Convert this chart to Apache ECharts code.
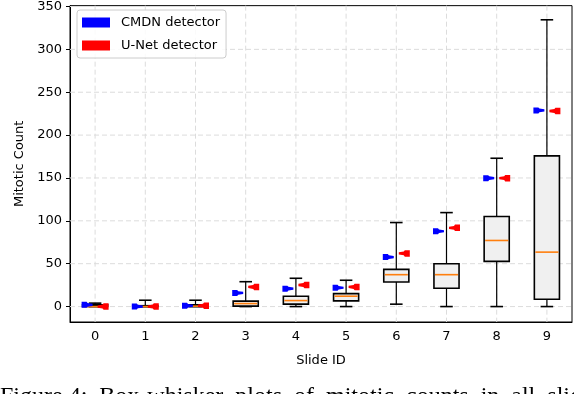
<!DOCTYPE html>
<html><head><meta charset="utf-8">
<script src="https://cdn.jsdelivr.net/npm/echarts@6/dist/echarts.min.js"></script>
<style>html,body{margin:0;padding:0;background:#fff}#c{width:574px;height:394px}</style>
</head><body><div id="c"></div>
<script>
// ---- data ----
const categories = ['0','1','2','3','4','5','6','7','8','9'];
const whiskerLow  = [0, 0, 0, 0, 0, 0, 2.8, 0, 0, 0];
const q1          = [0, 0, 0, 0.5, 2.8, 6.6, 28.7, 21.4, 52.7, 8.6];
const medians     = [0, 0, 0.5, 3.5, 7, 12.1, 37.2, 37.2, 77.1, 63.5];
const q3          = [2, 1, 2, 6.3, 12.1, 15.1, 43.4, 50, 105, 175.8];
const whiskerHigh = [4, 7.4, 7.4, 29, 33, 30.7, 98, 109.6, 173, 334.5];
const cmdnDetector = [2, 0, 1, 15.9, 20.9, 22, 57.7, 87.9, 149.8, 228.8];
const unetDetector = [0, 0, 1, 22.9, 25.2, 22.9, 62, 91.8, 149.8, 228.1];
const yTicks = [0, 50, 100, 150, 200, 250, 300, 350];
const seriesNames = ['CMDN detector', 'U-Net detector'];
const captionText = 'Figure 4:  Box-whisker  plots  of  mitotic  counts  in  all  slides';

const FONT = 'DejaVu Sans';
const boxData = categories.map((c, i) => [i, whiskerLow[i], q1[i], medians[i], q3[i], whiskerHigh[i]]);

function renderBox(params, api) {
  const idx = api.value(0);
  const cx = api.coord([idx, 0])[0];
  const band = api.size([1, 0])[0];
  const hw = band * 0.25, cw = band * 0.125;
  const y = k => api.coord([idx, api.value(k)])[1];
  const yLo = y(1), yQ1 = y(2), yMed = y(3), yQ3 = y(4), yHi = y(5);
  const ls = { stroke: '#000', lineWidth: 1.2 };
  return { type: 'group', children: [
    { type: 'line', shape: { x1: cx, y1: yQ1, x2: cx, y2: yLo }, style: ls },
    { type: 'line', shape: { x1: cx, y1: yQ3, x2: cx, y2: yHi }, style: ls },
    { type: 'line', shape: { x1: cx - cw, y1: yLo, x2: cx + cw, y2: yLo }, style: { stroke: '#000', lineWidth: 1.6 } },
    { type: 'line', shape: { x1: cx - cw, y1: yHi, x2: cx + cw, y2: yHi }, style: { stroke: '#000', lineWidth: 1.6 } },
    { type: 'rect', shape: { x: cx - hw, y: yQ3, width: 2 * hw, height: Math.max(yQ1 - yQ3, 0.5) }, style: { fill: '#f0f0f0', stroke: '#000', lineWidth: 1.6 } },
    { type: 'line', shape: { x1: cx - hw + 1, y1: yMed, x2: cx + hw - 1, y2: yMed }, style: { stroke: '#ff7f0e', lineWidth: 1.6 } }
  ]};
}
function renderVGrid(params, api) {
  const cs = params.coordSys;
  const x = api.coord([api.value(0), 0])[0];
  return { type: 'line', shape: { x1: x, y1: cs.y, x2: x, y2: cs.y + cs.height },
    style: { stroke: '#dcdcdc', lineWidth: 1, lineDash: [5, 3] } };
}
function renderHGrid(params, api) {
  const cs = params.coordSys;
  const yy = api.coord([0, api.value(1)])[1];
  return { type: 'line', shape: { x1: cs.x, y1: yy, x2: cs.x + cs.width, y2: yy },
    style: { stroke: '#dcdcdc', lineWidth: 1, lineDash: [5, 3] } };
}

const chart = echarts.init(document.getElementById('c'), null, { renderer: 'canvas' });
chart.setOption({
  animation: false,
  backgroundColor: '#fff',
  grid: { left: 70, right: 2, top: 4, bottom: 72, show: true, borderColor: '#000', borderWidth: 1, backgroundColor: 'transparent' },
  legend: {
    orient: 'vertical', left: 77, top: 10,
    data: [{ name: seriesNames[0], icon: 'rect', itemStyle: { color: '#0000ff', opacity: 1 } },
           { name: seriesNames[1], icon: 'rect', itemStyle: { color: '#ff0000', opacity: 1 } }],
    itemWidth: 28, itemHeight: 10, itemGap: 10,
    padding: [6, 6, 6, 5],
    backgroundColor: 'rgba(255,255,255,0.85)', borderColor: '#cccccc', borderWidth: 1, borderRadius: 3,
    textStyle: { fontFamily: FONT, fontSize: 13, color: '#000', padding: [0, 0, 0, 6] }
  },
  xAxis: {
    type: 'category', data: categories, boundaryGap: true,
    name: 'Slide ID', nameLocation: 'middle', nameGap: 32,
    nameTextStyle: { fontFamily: FONT, fontSize: 13, color: '#000' },
    axisLine: { onZero: false, lineStyle: { color: '#000', width: 1 } },
    axisTick: { alignWithLabel: true, length: 4, lineStyle: { color: '#000' } },
    axisLabel: { fontFamily: FONT, fontSize: 13, color: '#000', margin: 8 },
    splitLine: { show: false }
  },
  yAxis: {
    type: 'value', min: -18, max: 351,
    name: 'Mitotic Count', nameLocation: 'middle', nameGap: 41,
    nameTextStyle: { fontFamily: FONT, fontSize: 13, color: '#000' },
    axisLine: { show: true, lineStyle: { color: '#000', width: 1 } },
    axisTick: { show: true, customValues: yTicks, length: 4, lineStyle: { color: '#000' } },
    axisLabel: { customValues: yTicks, fontFamily: FONT, fontSize: 13, color: '#000', margin: 8 },
    splitLine: { show: false }
  },
  graphic: [{
    type: 'text', left: 0, top: 385, silent: true,
    style: { text: captionText, font: '24px "Liberation Serif"', fill: '#000' }
  }],
  series: [
    { type: 'custom', name: 'vgrid', z: 1, silent: true, renderItem: renderVGrid, data: categories.map((c, i) => [i]), encode: { x: 0 } },
    { type: 'custom', name: 'hgrid', z: 1, silent: true, renderItem: renderHGrid, data: yTicks.map(t => [0, t]), encode: { x: 0, y: 1 } },
    { type: 'custom', name: 'boxes', z: 2, silent: true, renderItem: renderBox, data: boxData, encode: { x: 0, y: [1, 2, 3, 4, 5] } },
    { type: 'scatter', name: seriesNames[0], z: 5, data: cmdnDetector,
      symbol: 'path://M0,0 L5,0 L6,1 L11,1.6 L11,3.4 L6,4 L5,5 L0,5 Z', symbolSize: [11, 6], symbolOffset: [-8, 0],
      itemStyle: { color: '#0000ff', opacity: 1 } },
    { type: 'scatter', name: seriesNames[1], z: 5, data: unetDetector,
      symbol: 'path://M11,0 L6,0 L5,1 L0,1.6 L0,3.4 L5,4 L6,5 L11,5 Z', symbolSize: [11, 6.5], symbolOffset: [8, 0],
      itemStyle: { color: '#ff0000', opacity: 1 } }
  ]
});
</script></body></html>
